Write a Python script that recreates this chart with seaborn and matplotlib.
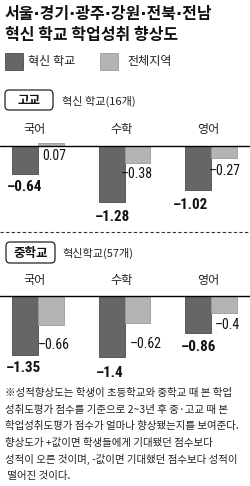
import matplotlib
matplotlib.use("Agg")
import matplotlib.pyplot as plt
from matplotlib import font_manager
from matplotlib.patches import FancyBboxPatch, Rectangle
import seaborn as sns
import pandas as pd

# ---------------- data ----------------
title_lines = ["서울·경기·광주·강원·전북·전남", "혁신 학교 학업성취 향상도"]
subjects = ["국어", "수학", "영어"]
series_names = ["혁신 학교", "전체지역"]
high_innov = [-0.64, -1.28, -1.02]
high_all = [0.07, -0.38, -0.27]
mid_innov = [-1.35, -1.4, -0.86]
mid_all = [-0.66, -0.62, -0.4]
section_tags = ["고교", "중학교"]
section_notes = ["혁신 학교(16개)", "혁신학교(57개)"]
footnote = [
    "※성적향상도는 학생이 초등학교와 중학교 때 본 학업",
    "성취도평가 점수를 기준으로 2~3년 후 중·고교 때 본",
    "학업성취도평가 점수가 얼마나 향상됐는지를 보여준다.",
    "향상도가 +값이면 학생들에게 기대됐던 점수보다",
    "성적이 오른 것이며, -값이면 기대했던 점수보다 성적이",
    " 떨어진 것이다.",
]

# ---------------- style ----------------
sns.set_theme(style="white")
plt.rcParams["font.family"] = ["Noto Sans CJK KR", "DejaVu Sans"]

def pick_font(cands):
    for c in cands:
        try:
            font_manager.findfont(c, fallback_to_default=False)
            return c
        except Exception:
            pass
    return "DejaVu Sans"

NUM_FONT = pick_font(["Liberation Sans Narrow", "Roboto Condensed", "Liberation Sans"])

DARK = "#666666"
DARK_EDGE = "#4a4a4a"
LIGHT = "#b4b4b4"
LIGHT_EDGE = "#9a9a9a"
TXT = "#222222"

W, H = 250, 486
fig = plt.figure(figsize=(W / 100, H / 100), dpi=100)
fig.patch.set_facecolor("white")

# overlay axes in pixel coordinates
ov = fig.add_axes([0, 0, 1, 1])
ov.set_xlim(0, W)
ov.set_ylim(H, 0)
ov.axis("off")

# title: DejaVu first gives a narrow middle dot, Hangul falls back to Noto CJK
TSIZE = 11.5
ov.text(5, 15, title_lines[0], fontsize=TSIZE, fontweight="bold", color="#111111",
        family=["DejaVu Sans", "Noto Sans CJK KR"], ha="left", va="center")
ov.text(5, 35, title_lines[1], fontsize=TSIZE, fontweight="bold", color="#111111",
        ha="left", va="center")

# legend
ov.add_patch(Rectangle((5, 53), 18, 17, facecolor=DARK, edgecolor=DARK_EDGE, lw=0.6))
ov.text(28, 62, series_names[0], fontsize=8.7, color=TXT, ha="left", va="center")
ov.add_patch(Rectangle((100, 53), 18, 17, facecolor=LIGHT, edgecolor=LIGHT_EDGE, lw=0.6))
ov.text(127, 62, series_names[1], fontsize=8.7, color=TXT, ha="left", va="center")

# section headers
boxes = [(5, 90, 48, 20), (6, 242, 49, 21)]
for (bx, by, bw, bh), tag, note in zip(boxes, section_tags, section_notes):
    ov.add_patch(FancyBboxPatch((bx, by), bw, bh,
                                boxstyle="round,pad=0,rounding_size=4",
                                facecolor="white", edgecolor="#222222", lw=0.9))
    ov.text(bx + bw / 2, by + bh / 2 + 0.5, tag, fontsize=9, fontweight="bold",
            color="#111111", ha="center", va="center")
    ov.text(62, by + bh / 2 + 1, note, fontsize=8, color=TXT, ha="left", va="center")

# dashed separator
ov.plot([0, W], [232, 232], color="#333333", lw=0.8, linestyle=(0, (3, 2)))

# footnote
for k, line in enumerate(footnote):
    ov.text(5, 393 + k * 16.5, line, fontsize=7.55, color=TXT, ha="left", va="center")

# ---------------- charts ----------------
S = 43.5          # px per unit
YTOP, YBOT = 0.15, -1.6
X0, STEP = 38, 86.5
XL = (-X0 / STEP, (W - X0) / STEP)

def chart(zero_px, innov, allv, gaps, dxs):
    top = zero_px - YTOP * S
    hgt = (YTOP - YBOT) * S
    ax = fig.add_axes([0, 1 - (top + hgt) / H, 1, hgt / H])
    ax.patch.set_alpha(0)
    df = pd.DataFrame({
        "subject": subjects * 2,
        "series": [series_names[0]] * 3 + [series_names[1]] * 3,
        "value": list(innov) + list(allv),
    })
    sns.barplot(data=df, x="subject", y="value", hue="series", order=subjects,
                hue_order=series_names, palette=[DARK, LIGHT], width=0.59,
                errorbar=None, legend=False, ax=ax, linewidth=0.6)
    for cont, ec in zip(ax.containers, [DARK_EDGE, LIGHT_EDGE]):
        for b in cont:
            b.set_edgecolor(ec)
    ax.set_xlim(*XL)
    ax.set_ylim(YBOT, YTOP)
    ax.axhline(0, color="black", lw=1.0, zorder=5)
    ax.axis("off")
    # subject labels
    for i, s in enumerate(subjects):
        ax.annotate(s, xy=(i, 0), xytext=(-3 * 0.72, 16 * 0.72),
                    textcoords="offset points", ha="center", va="center",
                    fontsize=8.7, color=TXT, annotation_clip=False)
    # value labels
    for h, cont in enumerate(ax.containers):
        for i, b in enumerate(cont):
            val = [innov, allv][h][i]
            xc = b.get_x() + b.get_width() / 2
            ax.annotate(str(val).replace("-", "–"), xy=(xc, min(val, 0)),
                        xytext=(dxs[h][i] * 0.72, -gaps[h][i] * 0.72),
                        textcoords="offset points", ha="center", va="center",
                        fontsize=10.8 if h == 0 else 10,
                        fontweight="bold" if h == 0 else "normal",
                        family=NUM_FONT, color="#111111", annotation_clip=False)
    return ax

chart(146, high_innov, high_all,
      gaps=[[13, 15, 15], [10, 11, 13]], dxs=[[-1, 1, -8], [3.5, 0, 1]])
chart(296, mid_innov, mid_all,
      gaps=[[13, 16, 14], [20, 21, 12]], dxs=[[-2, -2, 0], [3.5, 9, 3.5]])

fig.savefig("out.png", dpi=100, facecolor="white")
